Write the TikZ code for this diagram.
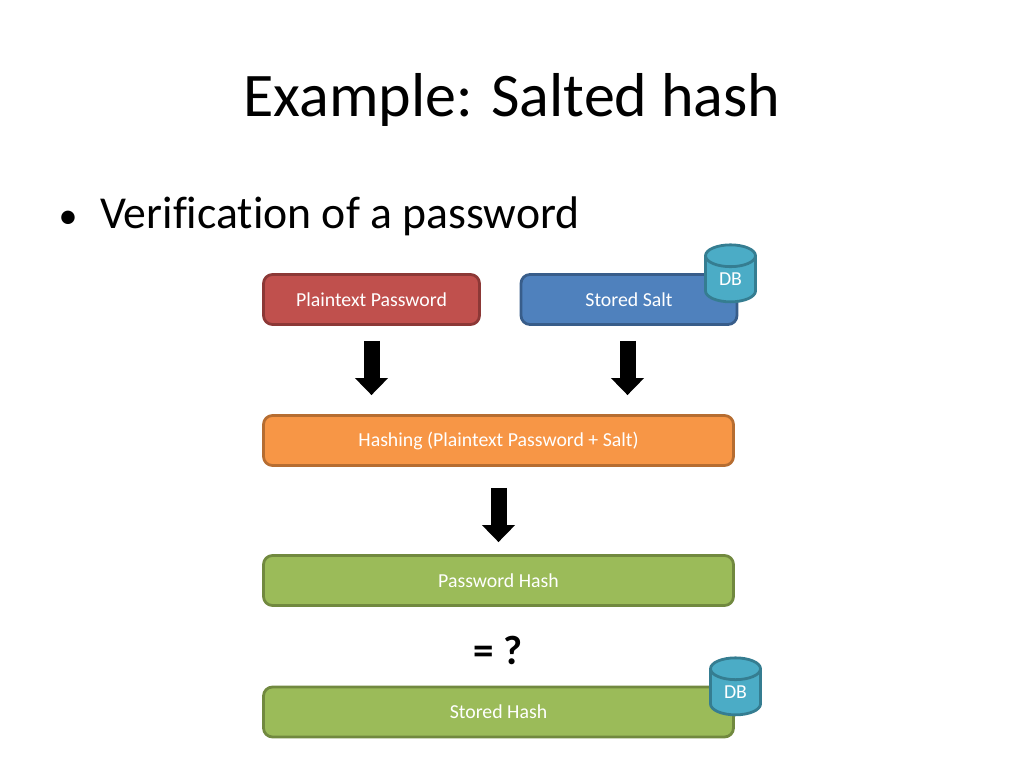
\documentclass[tikz,border=0pt]{standalone}
\usepackage{fontspec}
\setmainfont[Ligatures=NoCommon]{Carlito}
\usetikzlibrary{arrows.meta,shapes.geometric}
\definecolor{redfill}{HTML}{C0504D}
\definecolor{redline}{HTML}{8C3836}
\definecolor{bluefill}{HTML}{4F81BD}
\definecolor{blueline}{HTML}{385D8A}
\definecolor{orangefill}{HTML}{F79646}
\definecolor{orangeline}{HTML}{B66D31}
\definecolor{greenfill}{HTML}{9BBB59}
\definecolor{greenline}{HTML}{71893F}
\definecolor{dbfill}{HTML}{4BACC6}
\definecolor{dbline}{HTML}{357D91}
\tikzset{
  box/.style={draw,line width=2.8pt,rounded corners=9pt,text=white,
    minimum height=50pt,inner sep=0pt,font=\fontsize{19.8}{24}\selectfont},
  dbcyl/.style={cylinder,shape border rotate=90,aspect=0.95,draw=dbline,fill=dbfill,
    line width=2.8pt,minimum width=50pt,minimum height=57pt,inner sep=0pt,
    text=white,font=\fontsize{19.8}{24}\selectfont},
  bigarrow/.style={line width=16pt,-{Triangle[width=32pt,length=17pt]}},
}
\begin{document}
\begin{tikzpicture}[x=1pt,y=-1pt]
\useasboundingbox (0,0) rectangle (1024,768);
%% text
\node (title) at (512,100) {\fontsize{62}{70}\selectfont Example: Salted hash};
\node[anchor=base] (dot) at (68,228) {\fontsize{38}{44}\selectfont •};
\node[anchor=base west,inner sep=0pt] (verify) at (100,228) {\fontsize{45.7}{50}\selectfont Verification of a password};
%% nodes
\node[box,fill=redfill,draw=redline,minimum width=216pt] (plain) at (371.5,299.5) {Plaintext Password};
\node[box,fill=bluefill,draw=blueline,minimum width=216pt] (salt) at (629,299.5) {Stored Salt};
\node[box,fill=orangefill,draw=orangeline,minimum width=470pt] (hashing) at (498.5,440.5) {Hashing (Plaintext Password + Salt)};
\node[box,fill=greenfill,draw=greenline,minimum width=470pt] (pwhash) at (498.5,580.5) {Password Hash};
\node (equal) at (498,650) {\fontsize{41}{45}\selectfont\bfseries = ?};
\node[box,fill=greenfill,draw=greenline,minimum width=470pt] (stored) at (498.5,712) {Stored Hash};
\node[dbcyl] (saltdb) at (730.5,279.5) {DB};
\node[dbcyl] (storeddb) at (735.5,692.5) {DB};
%%% edges
\draw[bigarrow,shorten <=15pt,shorten >=19pt] (plain.south) -- (plain.south |- hashing.north);
\draw[bigarrow,shorten <=15pt,shorten >=19pt] ([xshift=-1.5pt]salt.south) -- ([xshift=-1.5pt]salt.south |- hashing.north);
\draw[bigarrow,shorten <=21pt,shorten >=12pt] (hashing.south) -- (pwhash.north);
\end{tikzpicture}
\end{document}
